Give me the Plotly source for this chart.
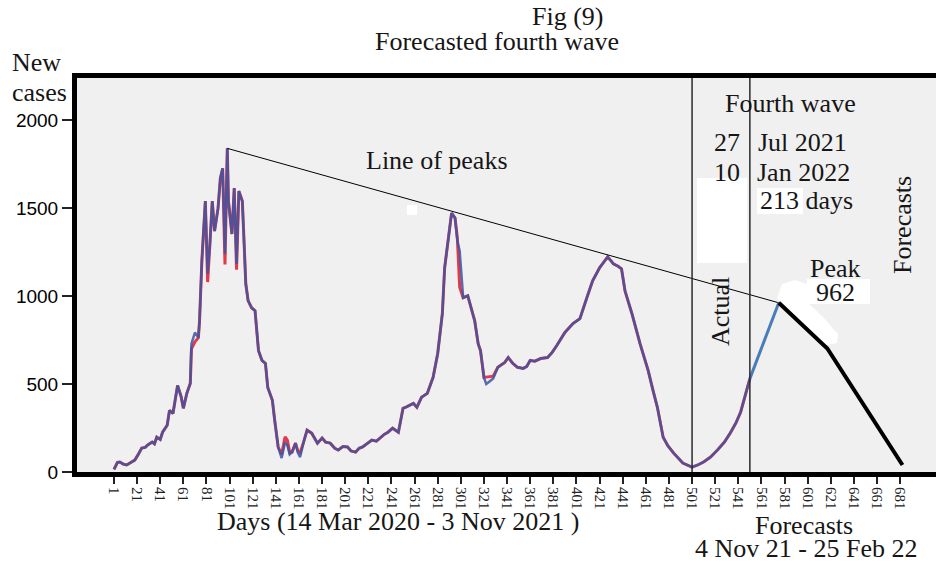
import plotly.graph_objects as go

# ---------------- data ----------------
days_actual = [1, 2, 4, 6, 9, 12, 16, 19, 22, 25, 28, 30, 34, 36, 38, 41, 43, 47, 49, 52,
               56, 59, 61, 64, 67, 68, 71, 74, 75, 77, 80, 82, 84, 86, 88, 91, 93, 95, 97, 99,
               100, 103, 105, 107, 109, 112, 113, 115, 117, 120, 123, 126, 129, 132, 134, 138, 140, 143, 146, 149,
               151, 153, 155, 158, 160, 162, 165, 168, 172, 177, 181, 184, 188, 192, 195, 199, 203, 206, 210, 213,
               216, 220, 224, 228, 231, 235, 238, 242, 247, 251, 254, 257, 260, 263, 267, 272, 277, 281, 285, 287,
               290, 293, 296, 298, 300, 303, 307, 311, 313, 316, 318, 321, 323, 325, 329, 333, 336, 339, 342, 346,
               350, 355, 358, 361, 365, 370, 376, 380, 384, 391, 398, 404, 410, 415, 421, 428, 431, 433, 437, 440,
               443, 449, 456, 463, 467, 471, 476, 480, 485, 493, 501, 506, 511, 517, 523, 529, 534, 539, 543, 547,
               551]

cases_blue = [15, 28, 55, 57, 45, 40, 55, 68, 100, 136, 140, 153, 170, 160, 198, 185, 226, 266, 350, 333,
              492, 430, 362, 447, 504, 730, 793, 764, 860, 1200, 1540, 1127, 1300, 1540, 1370, 1500, 1670, 1727, 1240, 1840,
              1540, 1353, 1614, 1183, 1597, 1540, 1387, 1070, 974, 934, 917, 690, 634, 617, 481, 408, 294, 142, 79, 170,
              150, 100, 113, 164, 110, 85, 170, 238, 221, 164, 193, 170, 164, 135, 125, 145, 142, 120, 113, 135,
              142, 160, 181, 175, 193, 215, 226, 249, 226, 362, 370, 379, 390, 368, 425, 447, 538, 674, 900, 1161,
              1331, 1472, 1444, 1314, 1257, 991, 1002, 900, 860, 730, 690, 538, 500, 510, 532, 595, 610, 623, 651, 617,
              595, 589, 600, 634, 630, 645, 651, 680, 719, 793, 844, 872, 991, 1087, 1161, 1223, 1200, 1183, 1170, 1155,
              1030, 900, 730, 578, 470, 368, 198, 150, 108, 51, 28, 40, 57, 85, 125, 170, 221, 280, 340, 430,
              531]

cases_red = [15, 28, 55, 57, 45, 40, 55, 68, 100, 136, 140, 153, 170, 160, 198, 185, 226, 266, 350, 333,
             492, 430, 362, 447, 504, 700, 740, 764, 860, 1200, 1540, 1080, 1300, 1540, 1370, 1500, 1670, 1727, 1180, 1840,
             1540, 1353, 1614, 1150, 1597, 1540, 1387, 1070, 974, 934, 917, 690, 634, 617, 481, 408, 294, 142, 100, 200,
             180, 110, 113, 164, 120, 110, 170, 238, 221, 164, 193, 170, 164, 135, 125, 145, 142, 120, 113, 135,
             142, 160, 181, 175, 193, 215, 226, 249, 226, 362, 370, 379, 390, 368, 425, 447, 538, 674, 900, 1161,
             1331, 1472, 1444, 1330, 1050, 991, 1002, 900, 860, 730, 690, 538, 540, 545, 545, 595, 610, 623, 651, 617,
             595, 589, 600, 634, 630, 645, 651, 680, 719, 793, 844, 872, 991, 1087, 1161, 1223, 1200, 1183, 1170, 1155,
             1030, 900, 730, 578, 470, 368, 198, 150, 108, 51, 28, 40, 57, 85, 125, 170, 221, 280, 340, 430,
             531]

rise_days = [551, 576]
rise_cases = [531, 962]

forecast_days = [576, 618, 683]
forecast_cases = [962, 702, 40]

peak_line_days = [99, 576]
peak_line_cases = [1840, 962]

actual_start_day = 501
actual_end_day = 551

x_tick_vals = [1, 21, 41, 61, 81, 101, 121, 141, 161, 181, 201, 221, 241, 261, 281, 301, 321, 341,
               361, 381, 401, 421, 441, 461, 481, 501, 521, 541, 561, 581, 601, 621, 641, 661, 681]
x_tick_text = [str(v) for v in x_tick_vals]
y_tick_vals = [0, 500, 1000, 1500, 2000]
y_tick_text = ["0", "500", "1000", "1500", "2000"]

# ---------------- layout helpers ----------------
L, R, T, B = 77, 936, 78, 472
W, H = 936, 565


def px(x):
    return (x - L) / (R - L)


def py(y):
    return (B - y) / (B - T)


SERIF = "Liberation Serif"


def ann(text, x, y, size=26, angle=0, anchor="center"):
    return dict(text=text, x=px(x), y=py(y), xref="paper", yref="paper", showarrow=False,
                font=dict(family=SERIF, size=size, color="#161616"), textangle=angle,
                xanchor=anchor, yanchor="middle")


fig = go.Figure()

fig.add_trace(go.Scatter(x=days_actual, y=cases_red, mode="lines",
                         line=dict(color="#e23a48", width=3), hoverinfo="skip"))
fig.add_trace(go.Scatter(x=days_actual, y=cases_blue, mode="lines",
                         line=dict(color="#3a56a6", width=2.5), opacity=0.85, hoverinfo="skip"))
fig.add_trace(go.Scatter(x=peak_line_days, y=peak_line_cases, mode="lines",
                         line=dict(color="black", width=1), hoverinfo="skip"))
fig.add_trace(go.Scatter(x=rise_days, y=rise_cases, mode="lines",
                         line=dict(color="#4a7cb8", width=3), hoverinfo="skip"))
fig.add_trace(go.Scatter(x=forecast_days, y=forecast_cases, mode="lines",
                         line=dict(color="black", width=4), hoverinfo="skip"))

shapes = []
# white patches in the original picture
for (x0, y0, x1, y1) in [(697, 178, 747, 263), (407, 205, 417, 215), (757, 188, 803, 214), (807, 279, 870, 304)]:
    shapes.append(dict(type="rect", xref="paper", yref="paper", x0=px(x0), x1=px(x1), y0=py(y0), y1=py(y1),
                       fillcolor="white", line=dict(width=0), layer="below"))
blob = [(777, 298), (782, 284), (795, 280), (807, 284), (808, 303), (822, 316), (838, 334), (837, 343), (826, 345), (790, 314)]
path = "M " + " L ".join(f"{px(a):.5f},{py(b):.5f}" for a, b in blob) + " Z"
shapes.append(dict(type="path", xref="paper", yref="paper", path=path, fillcolor="white",
                   line=dict(width=0), layer="below"))
for d in [actual_start_day, actual_end_day]:
    shapes.append(dict(type="line", xref="x", yref="paper", x0=d, x1=d, y0=0, y1=1,
                       line=dict(color="#2a2a2a", width=1.5)))

annotations = [
    ann("Fig (9)", 568, 17),
    ann("Forecasted fourth wave", 497, 42),
    ann("New", 10, 62, anchor="left"),
    ann("cases", 10, 92, anchor="left"),
    ann("Line of peaks", 437, 160),
    ann("Fourth wave", 790, 103),
    ann("27", 727, 142),
    ann("Jul 2021", 802, 142),
    ann("10", 727, 172),
    ann("Jan 2022", 803, 172),
    ann("213 days", 806, 200),
    ann("Peak", 835, 268),
    ann("962", 835, 292),
    ann("Forecasts", 903, 225, angle=-90),
    ann("Actual", 720, 312, angle=-90),
    ann("Days (14 Mar 2020 - 3 Nov 2021 )", 398, 521),
    ann("Forecasts", 804, 525),
    ann("4 Nov 21 - 25 Feb 22", 806, 548),
]

fig.update_layout(
    width=W, height=H,
    margin=dict(l=L, r=W - R, t=T, b=H - B),
    paper_bgcolor="white", plot_bgcolor="#f0f0f0",
    showlegend=False,
    shapes=shapes, annotations=annotations,
    xaxis=dict(range=[-31, 712], tickvals=x_tick_vals, ticktext=x_tick_text, tickangle=90,
               ticks="outside", ticklen=7, tickwidth=1.5, tickcolor="#222",
               showline=True, linewidth=5, linecolor="black", mirror=True,
               showgrid=False, zeroline=False,
               tickfont=dict(family=SERIF, size=15, color="#222")),
    yaxis=dict(range=[0, 2240], tickvals=y_tick_vals, ticktext=y_tick_text,
               ticks="outside", ticklen=10, tickwidth=1.5, tickcolor="#222",
               showline=True, linewidth=5, linecolor="black",
               showgrid=False, zeroline=False,
               tickfont=dict(family="Liberation Sans", size=19, color="black")),
)

fig.write_html("out.html")
